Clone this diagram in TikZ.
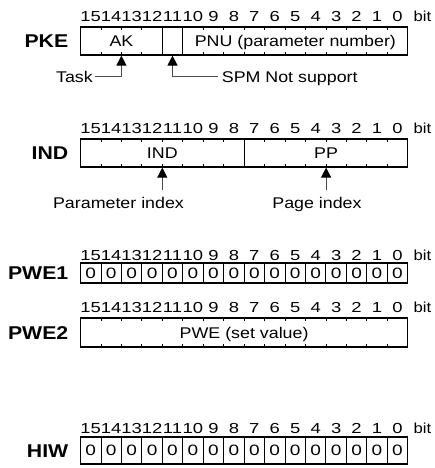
\documentclass[tikz,border=0pt]{standalone}
\usepackage{fontspec}
\setmainfont{Liberation Sans}[FakeStretch=1.15]
\newfontfamily\numfont{Liberation Sans}[FakeStretch=1.27]
\usetikzlibrary{arrows.meta}
\tikzset{
  regbox/.style={draw, line width=1.2pt, inner sep=0pt, outer sep=0pt, anchor=north west, minimum width=327.2pt},
  tickline/.style={line width=0.8pt},
  divline/.style={line width=0.9pt},
  bitnum/.style={font=\numfont\fontsize{14.5}{14.5}\selectfont, inner sep=0pt, text height=10.4pt, text depth=0pt},
  bitword/.style={font=\fontsize{14.5}{14.5}\selectfont, inner sep=0pt, text height=10.4pt, text depth=0pt},
  reglabel/.style={font=\fontsize{18.5}{18.5}\selectfont\bfseries, inner sep=0pt, anchor=east, text height=13.2pt, text depth=0pt},
  txt/.style={font=\fontsize{15.5}{15.5}\selectfont, inner sep=0pt, text height=11.1pt, text depth=0pt},
  zero/.style={font=\numfont\fontsize{15}{15}\selectfont, inner sep=0pt, text height=10.8pt, text depth=0pt},
  conn/.style={draw=black!70, line width=0.9pt},
  uptip/.style={-{Triangle[width=10pt,length=10pt,color=black]}},
}
\newcommand{\bitrow}[2]{% #1 name, #2 y
  \foreach \i in {0,...,15}{
    \pgfmathtruncatemacro\bb{15-\i}
    \node[bitnum] (#1n\i) at ({80.5+(\i+0.5)*20.45}, #2) {\bb};
  }
  \node[bitword] (#1bit) at (422.5, #2) {bit};
}
\newcommand{\tickrow}[3]{% #1 top, #2 bottom, #3 list of positions
  \foreach \i in {#3}{
    \draw[tickline] ({80.5+\i*20.45}, #1) -- ++(0,3.2) ({80.5+\i*20.45}, #2) -- ++(0,-3.2);
  }
}
\newcommand{\zerorow}[4]{% #1 name, #2 top, #3 bottom, #4 centre y
  \foreach \i in {1,...,15}{
    \draw[divline] ({80.5+\i*20.45}, #2) -- ({80.5+\i*20.45}, #3);
  }
  \foreach \i in {0,...,15}{
    \node[zero] (#1z\i) at ({80.5+(\i+0.5)*20.45}, #4) {0};
  }
}
\begin{document}
\begin{tikzpicture}[x=1pt, y=-1pt]
\useasboundingbox (0,0) rectangle (435,468);

% ---------------- PKE ----------------
\bitrow{pke}{16}
\node[reglabel] (pkelabel) at (68.5, 41) {PKE};
\node[regbox, minimum height=28pt] (pke) at (80.5, 27) {};
\draw[divline] (162.3, 27) -- (162.3, 55);
\draw[divline] (182.75, 27) -- (182.75, 55);
\tickrow{27}{55}{1,2,3,6,7,8,9,10,11,12,13,14,15}
\node[txt] (ak) at (121.4, 41) {AK};
\node[txt] (pnu) at (295.4, 41) {PNU (parameter number)};
\coordinate (tasktip) at (121.4, 55.6);
\coordinate (spmtip) at (172.5, 55.6);
\node[txt, anchor=east] (task) at (93, 76.5) {Task};
\node[txt, anchor=west] (spm) at (221.7, 76.5) {SPM Not support};
\draw[conn, uptip, shorten <=2pt] (task.east) -| (tasktip);
\draw[conn, uptip, shorten <=3.5pt] (spm.west) -| (spmtip);

% ---------------- IND ----------------
\bitrow{ind}{128}
\node[reglabel] (indlabel) at (68.5, 153) {IND};
\node[regbox, minimum height=28pt] (ind) at (80.5, 139) {};
\draw[divline] (244.1, 139) -- (244.1, 167);
\tickrow{139}{167}{1,2,3,4,5,6,7,9,10,11,12,13,14,15}
\node[txt] (indtxt) at (162.3, 153) {IND};
\node[txt] (pp) at (326.1, 153) {PP};
\coordinate (paratip) at (162.3, 167.6);
\coordinate (pagetip) at (326.1, 167.6);
\coordinate (paraend) at (162.3, 190);
\coordinate (pageend) at (326.1, 190);
\node[txt] (para) at (118.5, 203) {Parameter index};
\node[txt] (page) at (317, 203) {Page index};
\draw[conn, uptip] (paraend) -- (paratip);
\draw[conn, uptip] (pageend) -- (pagetip);

% ---------------- PWE1 ----------------
\bitrow{pwea}{255}
\node[reglabel] (pwealabel) at (68.5, 273) {PWE1};
\node[regbox, minimum height=20pt] (pwea) at (80.5, 263) {};
\zerorow{pwea}{263}{283}{273}

% ---------------- PWE2 ----------------
\bitrow{pweb}{307}
\node[reglabel] (pweblabel) at (68.5, 332.5) {PWE2};
\node[regbox, minimum height=29pt] (pweb) at (80.5, 318) {};
\tickrow{318}{347}{1,2,...,15}
\node[txt] (pwe) at (244.1, 332.5) {PWE (set value)};

% ---------------- HIW ----------------
\bitrow{hiw}{428}
\node[reglabel] (hiwlabel) at (68.5, 451) {HIW};
\node[regbox, minimum height=27pt] (hiw) at (80.5, 437) {};
\zerorow{hiw}{437}{464}{450.5}
\end{tikzpicture}
\end{document}
